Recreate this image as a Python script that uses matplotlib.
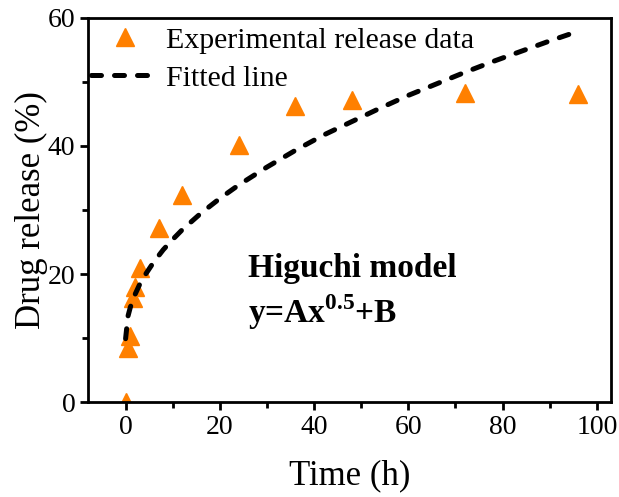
import matplotlib
matplotlib.use("Agg")
import matplotlib.pyplot as plt
from matplotlib.ticker import MultipleLocator

plt.rcParams['font.family'] = ['Liberation Serif', 'DejaVu Serif']
plt.rcParams['mathtext.fontset'] = 'custom'
plt.rcParams['mathtext.rm'] = 'Liberation Serif'
plt.rcParams['mathtext.bf'] = 'Liberation Serif:bold'

# experimental release data
time_h = [0, 0.5, 1, 1.5, 2, 3, 7, 12, 24, 36, 48, 72, 96]
release = [0, 8.5, 10.3, 16.2, 18.0, 21.0, 27.2, 32.3, 40.2, 46.2, 47.2, 48.3, 48.1]

# fitted Higuchi curve
fit_t = [0, 0.5, 1, 2, 3, 4, 6, 8, 10, 12, 16, 20, 24, 30, 36, 42, 48, 54, 60, 66, 72, 78, 84, 90, 96]
fit_y = [9.9, 13.4, 14.8, 16.8, 18.4, 19.7, 21.9, 23.8, 25.4, 26.9, 29.5, 31.8, 33.9,
         36.7, 39.3, 41.7, 43.8, 45.9, 47.9, 49.7, 51.5, 53.2, 54.8, 56.4, 57.9]

fig = plt.figure(figsize=(6.19, 4.97), dpi=100)
ax = fig.add_axes([0.142, 0.191, 0.845, 0.773])

ax.plot(time_h, release, linestyle='none', marker='^', color='#FF8000', ms=13,
        label='Experimental release data')
ax.plot(fit_t, fit_y, color='black', lw=3.6, ls=(0, (2.0, 2.6)), dash_capstyle='round',
        label='Fitted line')

ax.set_xlim(-8, 103)
ax.set_ylim(0, 60)
ax.xaxis.set_major_locator(MultipleLocator(20))
ax.xaxis.set_minor_locator(MultipleLocator(10))
ax.yaxis.set_major_locator(MultipleLocator(20))
ax.yaxis.set_minor_locator(MultipleLocator(10))
ax.tick_params(which='major', direction='out', length=6, width=2, labelsize=20, pad=3)
ax.tick_params(which='minor', direction='out', length=4, width=2)
for s in ax.spines.values():
    s.set_linewidth(2)

ax.set_xlabel('Time (h)', fontsize=25, labelpad=14)
ax.set_ylabel('Drug release (%)', fontsize=25, labelpad=0)

ax.text(26, 19.5, 'Higuchi model', fontsize=24, fontweight='bold', va='baseline')
ax.text(26, 12.3, r'y=Ax$^{\mathbf{0.5}}$+B', fontsize=24, fontweight='bold', va='baseline')

ax.legend(loc='upper left', bbox_to_anchor=(0.0, 0.985), frameon=False, fontsize=21.5,
          handlelength=2.3, handletextpad=0.22, labelspacing=0.38, borderaxespad=0,
          borderpad=0.1)

fig.savefig('out.png', dpi=100)
